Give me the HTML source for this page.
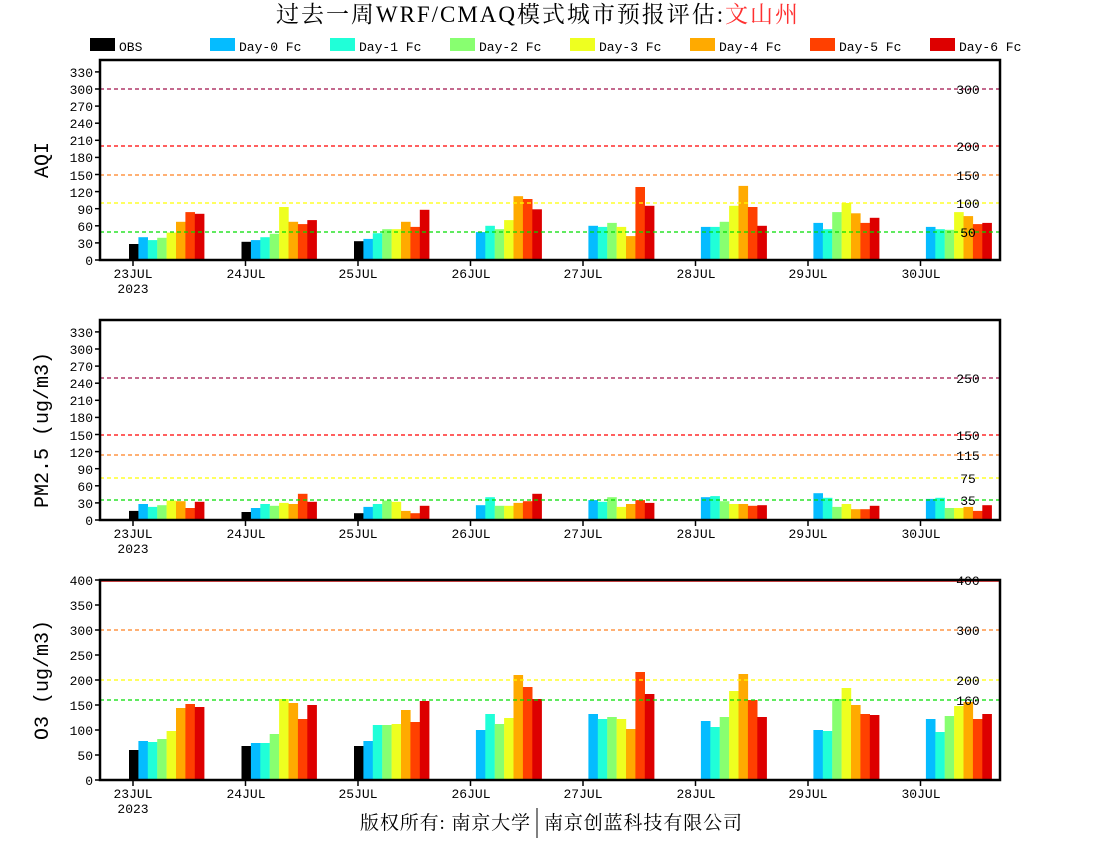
<!DOCTYPE html>
<html><head><meta charset="utf-8"><style>
html,body{margin:0;padding:0;background:#fff;}
svg{display:block;}
text{font-family:"Liberation Mono","Noto Sans CJK SC",monospace;}
.t{font-size:13px;fill:#000;}
.yl{font-family:"Liberation Mono","Noto Serif CJK SC",monospace;font-size:20px;}
.cj{font-family:"Liberation Serif","Noto Serif CJK SC",serif;}
</style></head><body>
<svg id="s" width="1100" height="850" xmlns="http://www.w3.org/2000/svg">
<text x="537" y="22" text-anchor="middle" class="cj" font-size="23" textLength="522" lengthAdjust="spacing">过去一周WRF/CMAQ模式城市预报评估:<tspan fill="#ff3030">文山州</tspan></text>
<g class="t" font-size="15">
<rect x="90" y="38" width="25" height="13" fill="#000"/><text x="119" y="51">OBS</text>
<rect x="210" y="38" width="25" height="13" fill="#05bcff"/><text x="239" y="51">Day-0 Fc</text>
<rect x="330" y="38" width="25" height="13" fill="#20ffd8"/><text x="359" y="51">Day-1 Fc</text>
<rect x="450" y="38" width="25" height="13" fill="#88ff70"/><text x="479" y="51">Day-2 Fc</text>
<rect x="570" y="38" width="25" height="13" fill="#eeff20"/><text x="599" y="51">Day-3 Fc</text>
<rect x="690" y="38" width="25" height="13" fill="#ffaa00"/><text x="719" y="51">Day-4 Fc</text>
<rect x="810" y="38" width="25" height="13" fill="#ff4000"/><text x="839" y="51">Day-5 Fc</text>
<rect x="930" y="38" width="25" height="13" fill="#dd0000"/><text x="959" y="51">Day-6 Fc</text>
</g>
<g id="bars"></g>
<g stroke-dasharray="4,3" stroke-width="1.2" fill="none">
<line x1="100" x2="1000" y1="89" y2="89" stroke="#a0104a"/>
<line x1="100" x2="1000" y1="146" y2="146" stroke="#ff0000"/>
<line x1="100" x2="1000" y1="175" y2="175" stroke="#ff8020"/>
<line x1="100" x2="1000" y1="203" y2="203" stroke="#ffff00"/>
<line x1="100" x2="1000" y1="232" y2="232" stroke="#00dd00"/>
<line x1="100" x2="1000" y1="378" y2="378" stroke="#a0104a"/>
<line x1="100" x2="1000" y1="435" y2="435" stroke="#ff0000"/>
<line x1="100" x2="1000" y1="455" y2="455" stroke="#ff8020"/>
<line x1="100" x2="1000" y1="478" y2="478" stroke="#ffff00"/>
<line x1="100" x2="1000" y1="500" y2="500" stroke="#00dd00"/>
<line x1="100" x2="1000" y1="630" y2="630" stroke="#ff8020"/>
<line x1="100" x2="1000" y1="680" y2="680" stroke="#ffff00"/>
<line x1="100" x2="1000" y1="700" y2="700" stroke="#00dd00"/>
</g>
<line x1="100" x2="1000" y1="581" y2="581" stroke="#ff0000" stroke-width="1.5"/>
<g class="t" text-anchor="middle">
<text x="968" y="94">300</text><text x="968" y="151">200</text><text x="968" y="180">150</text><text x="968" y="208">100</text><text x="968" y="237">50</text>
<text x="968" y="383">250</text><text x="968" y="440">150</text><text x="968" y="460">115</text><text x="968" y="483">75</text><text x="968" y="505">35</text>
<text x="968" y="585">400</text><text x="968" y="635">300</text><text x="968" y="685">200</text><text x="968" y="705">160</text>
</g>
<g fill="none" stroke="#000" stroke-width="2.5">
<rect x="100" y="60" width="900" height="200"/>
<rect x="100" y="320" width="900" height="200"/>
<rect x="100" y="580" width="900" height="200"/>
</g>
<g id="ticks" stroke="#000" stroke-width="1.5"></g>
<g class="t" text-anchor="end">
<text x="93" y="265">0</text><text x="93" y="248">30</text><text x="93" y="231">60</text><text x="93" y="214">90</text><text x="93" y="197">120</text><text x="93" y="180">150</text><text x="93" y="162">180</text><text x="93" y="145">210</text><text x="93" y="128">240</text><text x="93" y="111">270</text><text x="93" y="94">300</text><text x="93" y="77">330</text>
<text x="93" y="525">0</text><text x="93" y="508">30</text><text x="93" y="491">60</text><text x="93" y="474">90</text><text x="93" y="457">120</text><text x="93" y="440">150</text><text x="93" y="422">180</text><text x="93" y="405">210</text><text x="93" y="388">240</text><text x="93" y="371">270</text><text x="93" y="354">300</text><text x="93" y="337">330</text>
<text x="93" y="785">0</text><text x="93" y="760">50</text><text x="93" y="735">100</text><text x="93" y="710">150</text><text x="93" y="685">200</text><text x="93" y="660">250</text><text x="93" y="635">300</text><text x="93" y="610">350</text><text x="93" y="585">400</text>
</g>
<g class="t" text-anchor="middle">
<text x="133" y="278">23JUL</text><text x="133" y="293">2023</text><text x="246" y="278">24JUL</text><text x="358" y="278">25JUL</text><text x="471" y="278">26JUL</text><text x="583" y="278">27JUL</text><text x="696" y="278">28JUL</text><text x="808" y="278">29JUL</text><text x="921" y="278">30JUL</text>
<text x="133" y="538">23JUL</text><text x="133" y="553">2023</text><text x="246" y="538">24JUL</text><text x="358" y="538">25JUL</text><text x="471" y="538">26JUL</text><text x="583" y="538">27JUL</text><text x="696" y="538">28JUL</text><text x="808" y="538">29JUL</text><text x="921" y="538">30JUL</text>
<text x="133" y="798">23JUL</text><text x="133" y="813">2023</text><text x="246" y="798">24JUL</text><text x="358" y="798">25JUL</text><text x="471" y="798">26JUL</text><text x="583" y="798">27JUL</text><text x="696" y="798">28JUL</text><text x="808" y="798">29JUL</text><text x="921" y="798">30JUL</text>
</g>
<text class="yl" transform="translate(48,160) rotate(-90)" text-anchor="middle">AQI</text>
<text class="yl" transform="translate(48,430) rotate(-90)" text-anchor="middle">PM2.5 (ug/m3)</text>
<text class="yl" transform="translate(48,680) rotate(-90)" text-anchor="middle">O3 (ug/m3)</text>
<text x="445" y="829" class="cj" font-size="19" text-anchor="middle" textLength="170" lengthAdjust="spacing">版权所有: 南京大学</text>
<line x1="537" y1="808" x2="537" y2="838" stroke="#000" stroke-width="1"/>
<text x="643" y="829" class="cj" font-size="19" text-anchor="middle" textLength="198" lengthAdjust="spacing">南京创蓝科技有限公司</text>
</svg>
<script>
var C=["#000","#05bcff","#20ffd8","#88ff70","#eeff20","#ffaa00","#ff4000","#dd0000"];
var A=[[28,40,35,39,48,67,84,81],[32,35,40,46,93,67,63,70],[33,37,47,54,54,67,58,88],[null,49,60,54,70,112,107,89],[null,60,58,65,58,42,128,95],[null,58,58,67,95,130,93,60],[null,65,54,84,100,82,65,74],[null,58,54,53,84,77,63,65]];
var P=[[16,28,23,26,34,33,21,32],[14,21,28,25,30,28,46,32],[12,23,28,34,32,16,12,25],[null,26,40,25,25,30,33,46],[null,35,32,40,23,28,35,30],[null,40,42,33,28,28,25,26],[null,47,39,23,28,19,19,25],[null,37,39,21,21,23,16,26]];
var O=[[60,78,76,82,98,144,152,146],[68,74,74,92,162,154,122,150],[68,78,110,110,112,140,116,158],[null,100,132,112,124,210,186,162],[null,132,122,126,122,102,216,172],[null,118,106,126,178,212,160,126],[null,100,98,162,184,150,132,130],[null,122,96,128,148,156,122,132]];
var ns="http://www.w3.org/2000/svg",g=document.getElementById("bars"),tk=document.getElementById("ticks");
function draw(D,base,k){for(var d=0;d<8;d++){var t=133+d*112.5;for(var i=0;i<8;i++){var v=D[d][i];if(v==null)continue;var r=document.createElementNS(ns,"rect");var x=t-4+i*9.4;r.setAttribute("x",x.toFixed(1));r.setAttribute("width","9.6");r.setAttribute("y",(base-v*k).toFixed(1));r.setAttribute("height",(v*k).toFixed(1));r.setAttribute("fill",C[i]);g.appendChild(r);}
var l=document.createElementNS(ns,"line");l.setAttribute("x1",t);l.setAttribute("x2",t);l.setAttribute("y1",base);l.setAttribute("y2",base+6);tk.appendChild(l);}}
draw(A,260,0.57);draw(P,520,0.57);draw(O,780,0.5);
function yt(base,step,k,n){for(var i=0;i<=n;i++){var y=base-i*step*k;var l=document.createElementNS(ns,"line");l.setAttribute("x1",95);l.setAttribute("x2",100);l.setAttribute("y1",y);l.setAttribute("y2",y);tk.appendChild(l);}}
yt(260,30,0.57,11);yt(520,30,0.57,11);yt(780,50,0.5,8);
</script>
</body></html>
